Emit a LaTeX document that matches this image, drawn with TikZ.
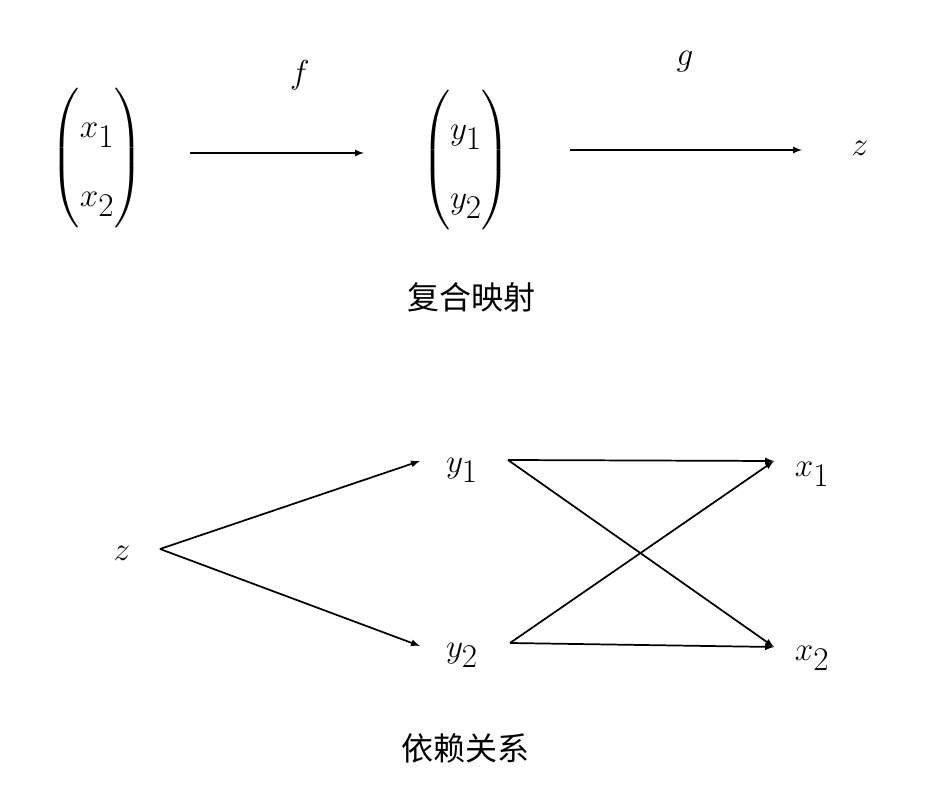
\documentclass[tikz,border=0pt]{standalone}
\usepackage{amsmath}
\usepackage{fontspec}
\newfontfamily\cjk{Noto Sans CJK SC}
\begin{document}
\begin{tikzpicture}[x=0.75pt,y=-0.75pt,
  m/.style={inner sep=0pt,font=\fontsize{44}{52}\selectfont},
  captxt/.style={inner sep=0pt,font=\cjk\fontsize{24}{28}\selectfont},
  arr/.style={-latex,line width=1.3pt}]
\useasboundingbox (0,0) rectangle (947,799);
\node[m] (A) at (97,158) {$\begin{pmatrix}x_1\\x_2\end{pmatrix}$};
\node[m] (B) at (466,160) {$\begin{pmatrix}y_1\\y_2\end{pmatrix}$};
\node[m] (Z) at (860,148) {$z$};
\node[m] (f) at (300,75) {$f$};
\node[m] (g) at (685,62) {$g$};
\coordinate (a1) at (190,153); \coordinate (a2) at (364,153);
\coordinate (b1) at (570,150); \coordinate (b2) at (802,150);
\draw[arr] (a1) -- (a2);
\draw[arr] (b1) -- (b2);
\node[captxt] (c1) at (471,297) {复合映射};
\node[m] (z) at (122,553) {$z$};
\node[m] (y1) at (462,470) {$y_1$};
\node[m] (y2) at (462,655) {$y_2$};
\node[m] (x1) at (812,474) {$x_1$};
\node[m] (x2) at (812,658) {$x_2$};
\coordinate (zo) at (160,549);
\coordinate (y1i) at (420,461); \coordinate (y2i) at (420,646);
\coordinate (y1o) at (508,460); \coordinate (y2o) at (510,643);
\coordinate (x1i) at (774,461); \coordinate (x2i) at (774,647);
\draw[arr] (zo) -- (y1i);
\draw[arr] (zo) -- (y2i);
\draw[arr] (y1o) -- (x1i);
\draw[arr] (y1o) -- (x2i);
\draw[arr] (y2o) -- (x1i);
\draw[arr] (y2o) -- (x2i);
\node[captxt] (c2) at (465,748) {依赖关系};
\end{tikzpicture}
\end{document}
